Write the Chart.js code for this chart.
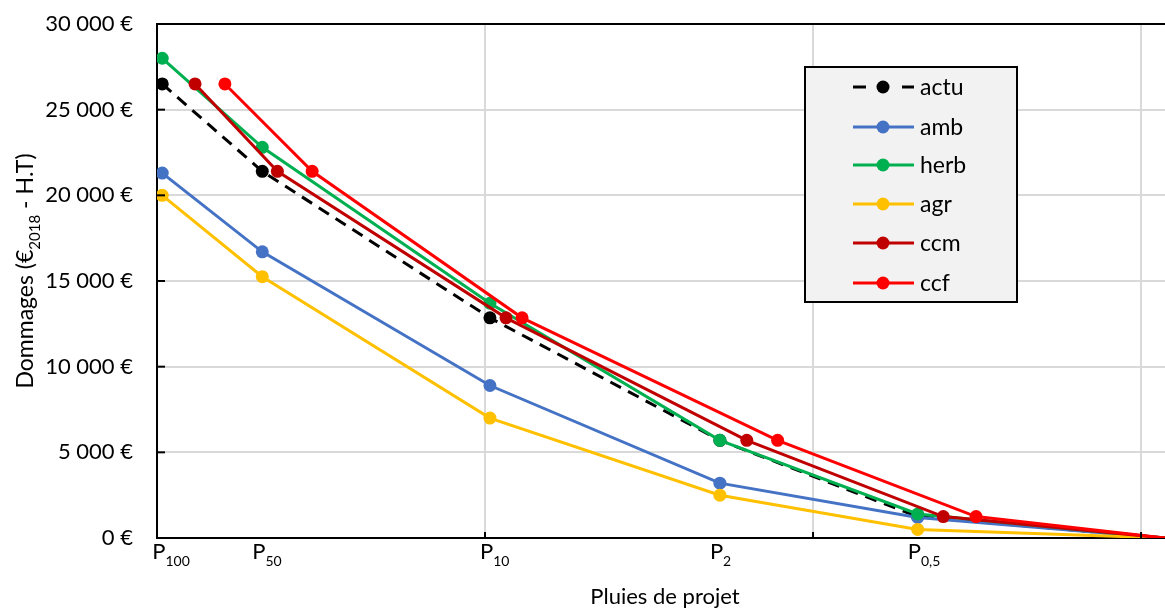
<!DOCTYPE html>
<html>
<head>
<meta charset="utf-8">
<script src="https://cdn.jsdelivr.net/npm/chart.js@4.4.1/dist/chart.umd.min.js"></script>
<style>
  html, body { margin: 0; padding: 0; background: #fff; }
  canvas { display: block; }
</style>
</head>
<body>
<canvas id="chart" width="1165" height="610"></canvas>
<script>
// x positions (2 - log10 of return period)
const xActu = [0.016, 0.321, 1.015, 1.716, 2.319, 3.073];
const xCcm = [0.116, 0.367, 1.064, 1.798, 2.397, 3.073];
const xCcf = [0.207, 0.473, 1.113, 1.892, 2.497, 3.073];

// damages in euros
const actu = [26500, 21400, 12850, 5700, 1250, 0];
const amb = [21300, 16700, 8900, 3200, 1200, 0];
const herb = [28000, 22800, 13700, 5700, 1400, 0];
const agr = [20000, 15250, 7000, 2500, 500, 0];
const ccm = [26500, 21400, 12850, 5700, 1250, 0];
const ccf = [26500, 21400, 12850, 5700, 1250, 0];

const seriesNames = ['actu', 'amb', 'herb', 'agr', 'ccm', 'ccf'];
const seriesColors = ['#000000', '#4472C4', '#00B050', '#FFC000', '#C00000', '#FF0000'];

// tick labels
const pluieLabels = ['100', '50', '10', '2', '0,5'];
const xGrid = [0, 1, 2, 3];
const yTicks = [0, 5000, 10000, 15000, 20000, 25000, 30000];

const FONT = 'Lato, "Open Sans", sans-serif';

const toPoints = (xs, ys) => xs.map((x, i) => ({ x: x, y: ys[i] }));

const makeDataset = (idx, xs, ys) => ({
    label: seriesNames[idx],
    data: toPoints(xs, ys),
    borderColor: seriesColors[idx],
    backgroundColor: seriesColors[idx],
    pointBackgroundColor: seriesColors[idx],
    pointBorderColor: seriesColors[idx],
    borderWidth: 3,
    borderDash: idx === 0 ? [12, 8] : [],
    pointRadius: ys.map((v, i) => (i === ys.length - 1 ? 0 : 6.5)),
    pointBorderWidth: 0,
    tension: 0,
    fill: false,
    order: seriesNames.length - 1 - idx
});

// draw text made of normal / subscript pieces
const drawParts = (ctx, parts, x, y, size, align) => {
    const subSize = Math.round(size * 0.64);
    let total = 0;
    parts.forEach((p) => {
        ctx.font = (p.sub ? subSize : size) + 'px ' + FONT;
        p.w = ctx.measureText(p.t).width;
        total += p.w;
    });
    let cx = align === 'center' ? x - total / 2 : x;
    parts.forEach((p) => {
        ctx.font = (p.sub ? subSize : size) + 'px ' + FONT;
        ctx.fillText(p.t, cx, p.sub ? y + size * 0.3 : y);
        cx += p.w;
    });
};

const extrasPlugin = {
    id: 'extras',
    afterDraw(chart) {
        const ctx = chart.ctx;
        const xs = chart.scales.x;
        const ys = chart.scales.y;
        const area = chart.chartArea;
        ctx.save();

        // inward tick marks
        ctx.strokeStyle = '#000';
        ctx.lineWidth = 2;
        yTicks.slice(1, -1).forEach((v) => {
            const py = ys.getPixelForValue(v);
            ctx.beginPath();
            ctx.moveTo(area.left, py);
            ctx.lineTo(area.left + 8, py);
            ctx.stroke();
        });
        xGrid.slice(1).forEach((v) => {
            const px = xs.getPixelForValue(v);
            ctx.beginPath();
            ctx.moveTo(px, area.bottom);
            ctx.lineTo(px, area.bottom - 6);
            ctx.stroke();
        });

        // P labels under the points
        ctx.fillStyle = '#000';
        ctx.textBaseline = 'alphabetic';
        ctx.textAlign = 'left';
        pluieLabels.forEach((lab, i) => {
            const px = xs.getPixelForValue(xActu[i]);
            drawParts(ctx, [{ t: 'P' }, { t: lab, sub: true }], px - 10, area.bottom + 21, 22, 'left');
        });

        // axis titles
        ctx.font = '22px ' + FONT;
        ctx.textAlign = 'center';
        ctx.fillText('Pluies de projet', (area.left + area.right) / 2 + 4, 604);

        ctx.save();
        ctx.translate(33, 271);
        ctx.rotate(-Math.PI / 2);
        ctx.textAlign = 'left';
        drawParts(ctx, [{ t: 'Dommages (€' }, { t: '2018', sub: true }, { t: ' - H.T)' }], 0, 0, 23, 'center');
        ctx.restore();

        // legend box
        const lx = 805, ly = 67, lw = 212, lh = 235;
        ctx.fillStyle = '#F2F2F2';
        ctx.fillRect(lx, ly, lw, lh);
        ctx.strokeStyle = '#000';
        ctx.lineWidth = 2;
        ctx.strokeRect(lx, ly, lw, lh);

        const rowY = [87, 127, 165, 204, 243, 283];
        seriesNames.forEach((name, i) => {
            const y = rowY[i];
            ctx.strokeStyle = seriesColors[i];
            ctx.fillStyle = seriesColors[i];
            ctx.lineWidth = 3;
            ctx.beginPath();
            if (i === 0) {
                ctx.moveTo(853, y); ctx.lineTo(866, y);
                ctx.moveTo(902, y); ctx.lineTo(914, y);
            } else {
                ctx.moveTo(853, y); ctx.lineTo(914, y);
            }
            ctx.stroke();
            ctx.beginPath();
            ctx.arc(883, y, 6.5, 0, Math.PI * 2);
            ctx.fill();
            ctx.fillStyle = '#000';
            ctx.font = '23px ' + FONT;
            ctx.textAlign = 'left';
            ctx.textBaseline = 'middle';
            ctx.fillText(name, 920, y + 1);
        });
        ctx.restore();
    }
};

const datasets = [
    makeDataset(0, xActu, actu),
    makeDataset(1, xActu, amb),
    makeDataset(2, xActu, herb),
    makeDataset(3, xActu, agr),
    makeDataset(4, xCcm, ccm),
    makeDataset(5, xCcf, ccf)
];

new Chart(document.getElementById('chart'), {
    type: 'line',
    data: { datasets: datasets },
    options: {
        responsive: false,
        animation: false,
        layout: { autoPadding: false, padding: { top: 24, right: 0, left: 0, bottom: 0 } },
        plugins: { legend: { display: false }, tooltip: { enabled: false } },
        scales: {
            x: {
                type: 'linear',
                min: 0,
                max: 3.073,
                afterBuildTicks: (s) => { s.ticks = xGrid.map((v) => ({ value: v })); },
                afterFit: (s) => { s.height = 72; s.paddingLeft = 0; s.paddingRight = 0; },
                ticks: { display: false },
                grid: { color: '#D9D9D9', lineWidth: 2, drawTicks: false },
                border: { color: '#000', width: 2 }
            },
            y: {
                type: 'linear',
                min: 0,
                max: 30000,
                afterBuildTicks: (s) => { s.ticks = yTicks.map((v) => ({ value: v })); },
                afterFit: (s) => { s.width = 157; s.paddingTop = 0; s.paddingBottom = 0; },
                ticks: {
                    color: '#000',
                    padding: 24,
                    font: { family: FONT, size: 22 },
                    callback: (v) => String(v).replace(/\B(?=(\d{3})+(?!\d))/g, ' ') + ' €'
                },
                grid: {
                    color: (c) => (c.tick && c.tick.value === 30000 ? '#000' : '#D9D9D9'),
                    lineWidth: 2,
                    drawTicks: false
                },
                border: { color: '#000', width: 2 }
            }
        }
    },
    plugins: [extrasPlugin]
});
</script>
</body>
</html>
